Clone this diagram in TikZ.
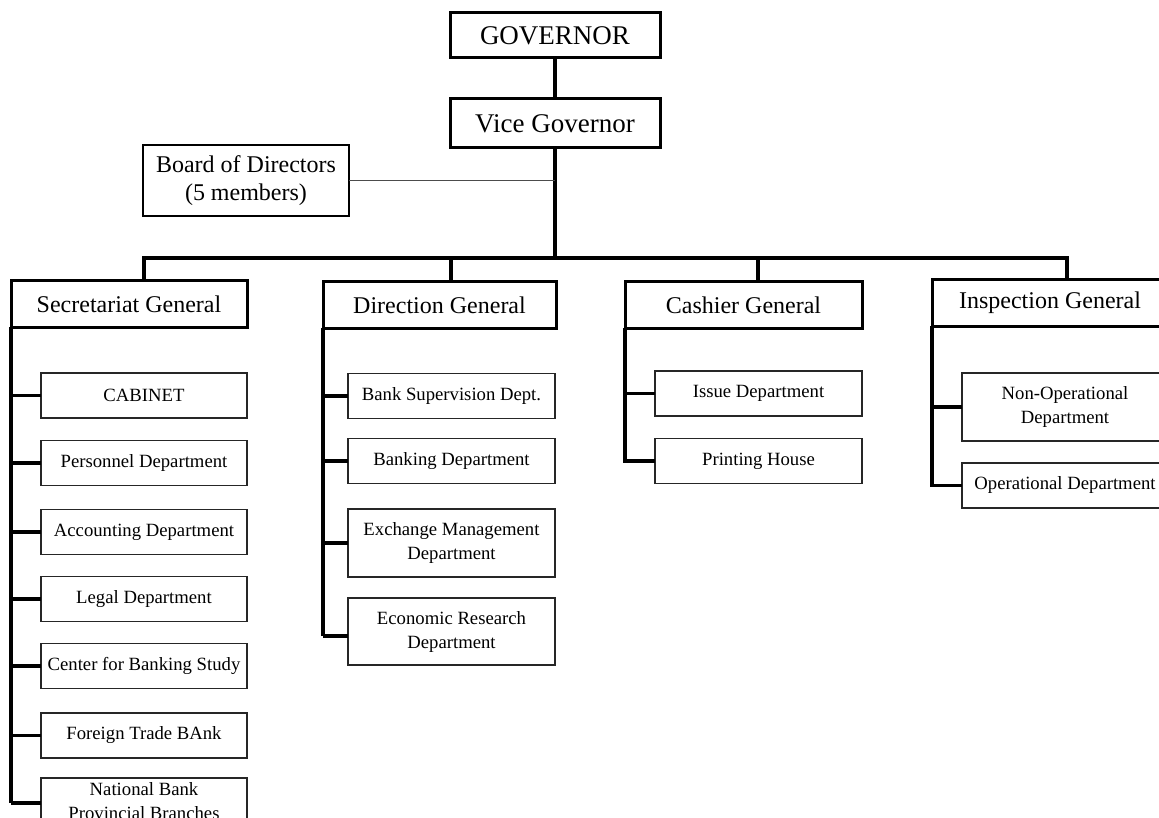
\documentclass[tikz,border=0pt]{standalone}
\usepackage{fontspec}
\setmainfont{Liberation Serif}
\begin{document}
\begin{tikzpicture}[x=1pt,y=-1pt,
  topbox/.style={draw, line width=3pt, inner sep=0pt, outer sep=0pt,
    minimum width=210pt, minimum height=45pt, font=\fontsize{27}{30}\selectfont},
  headbox/.style={draw, line width=3pt, inner sep=0pt, outer sep=0pt,
    minimum width=236pt, minimum height=46pt, font=\fontsize{24}{28}\selectfont},
  boardbox/.style={draw, line width=1.3pt, inner sep=0pt, outer sep=0pt, align=center,
    minimum width=206pt, minimum height=71pt, font=\fontsize{24}{28}\selectfont},
  subbox/.style={draw=black!85, line width=1.3pt, inner sep=0pt, outer sep=0pt, align=center,
    minimum width=206pt, minimum height=45pt, font=\fontsize{18.7}{24}\selectfont},
  tall/.style={minimum height=67pt},
  link/.style={line width=3.5pt, line join=miter},
  thinlink/.style={line width=1pt, draw=black!70}]
\useasboundingbox (0,0) rectangle (1159,818);
\clip (0,0) rectangle (1159,818);

% top of the hierarchy
\node[topbox] (gov) at (555,35.5) {GOVERNOR};
\node[topbox, minimum height=49pt] (vice) at (555,123.5) {Vice Governor};
\node[boardbox] (board) at (246,180.5) {Board of Directors\\(5 members)};

% general directorates
\node[headbox] (sec) at (129,304) {Secretariat General};
\node[headbox, minimum width=233pt] (dir) at (439.5,305) {Direction General};
\node[headbox, minimum width=237pt] (cas) at (743.5,305) {Cashier General};
\node[headbox] (ins) at (1050,303) {Inspection General};

% bus points
\coordinate (bus) at (555,258);
\coordinate (dsec) at (144,258);
\coordinate (ddir) at (451,258);
\coordinate (dcas) at (758,258);
\coordinate (dins) at (1067,258);

\draw[link] (gov.south) -- (vice.north);
\draw[link] (vice.south) -- ([yshift=-1.75pt]bus);
\draw[thinlink] (board.east) -- (board.east -| vice.south);
\draw[link] (dsec |- sec.north) -- (dsec) -- (dins) -- (dins |- ins.north);
\draw[link] (ddir) -- (ddir |- dir.north);
\draw[link] (dcas) -- (dcas |- cas.north);

% Secretariat General departments
\node[subbox] (cab) at (144,395.5) {CABINET};
\node[subbox] (per) at (144,463) {Personnel Department};
\node[subbox] (acc) at (144,532) {Accounting Department};
\node[subbox] (leg) at (144,599) {Legal Department};
\node[subbox] (cbs) at (144,666) {Center for Banking Study};
\node[subbox] (ftb) at (144,735.5) {Foreign Trade BAnk};
\node[subbox, tall, text depth=20pt] (nbp) at (144,811.5) {National Bank\\Provincial Branches};
\coordinate (nbstub) at ([yshift=8.5pt]nbp.west);
\draw[link] (sec.south west) -- (nbstub -| sec.west);
\foreach \b in {cab,per,acc,leg,cbs,ftb}
  \draw[link] (\b.west -| sec.west) -- (\b.west);
\draw[link] (nbstub -| sec.west) -- (nbstub);

% Direction General departments
\node[subbox, minimum width=207pt] (bsd) at (451.5,396) {Bank Supervision Dept.};
\node[subbox, minimum width=207pt] (bkd) at (451.5,461) {Banking Department};
\node[subbox, tall, minimum width=207pt, minimum height=68pt] (exm) at (451.5,543) {Exchange Management\\Department};
\node[subbox, tall, minimum width=207pt] (eco) at (451.5,631.5) {Economic Research\\Department};
\coordinate (ecostub) at ([yshift=-4.5pt]eco.west);
\draw[link] (dir.south west) -- (ecostub -| dir.west);
\foreach \b in {bsd,bkd,exm}
  \draw[link] (\b.west -| dir.west) -- (\b.west);
\draw[link] (ecostub -| dir.west) -- (ecostub);

% Cashier General departments
\node[subbox, minimum width=207pt] (iss) at (758.5,393.5) {Issue Department};
\node[subbox, minimum width=207pt] (prh) at (758.5,461) {Printing House};
\draw[link] (cas.south west) -- (prh.west -| cas.west) -- (prh.west);
\draw[link] (iss.west -| cas.west) -- (iss.west);

% Inspection General departments
\node[subbox, minimum height=68pt] (nop) at (1065,407) {Non-Operational\\Department};
\node[subbox] (opd) at (1065,485.5) {Operational Department};
\draw[link] (ins.south west) -- (opd.west -| ins.west) -- (opd.west);
\draw[link] (nop.west -| ins.west) -- (nop.west);
\end{tikzpicture}
\end{document}
